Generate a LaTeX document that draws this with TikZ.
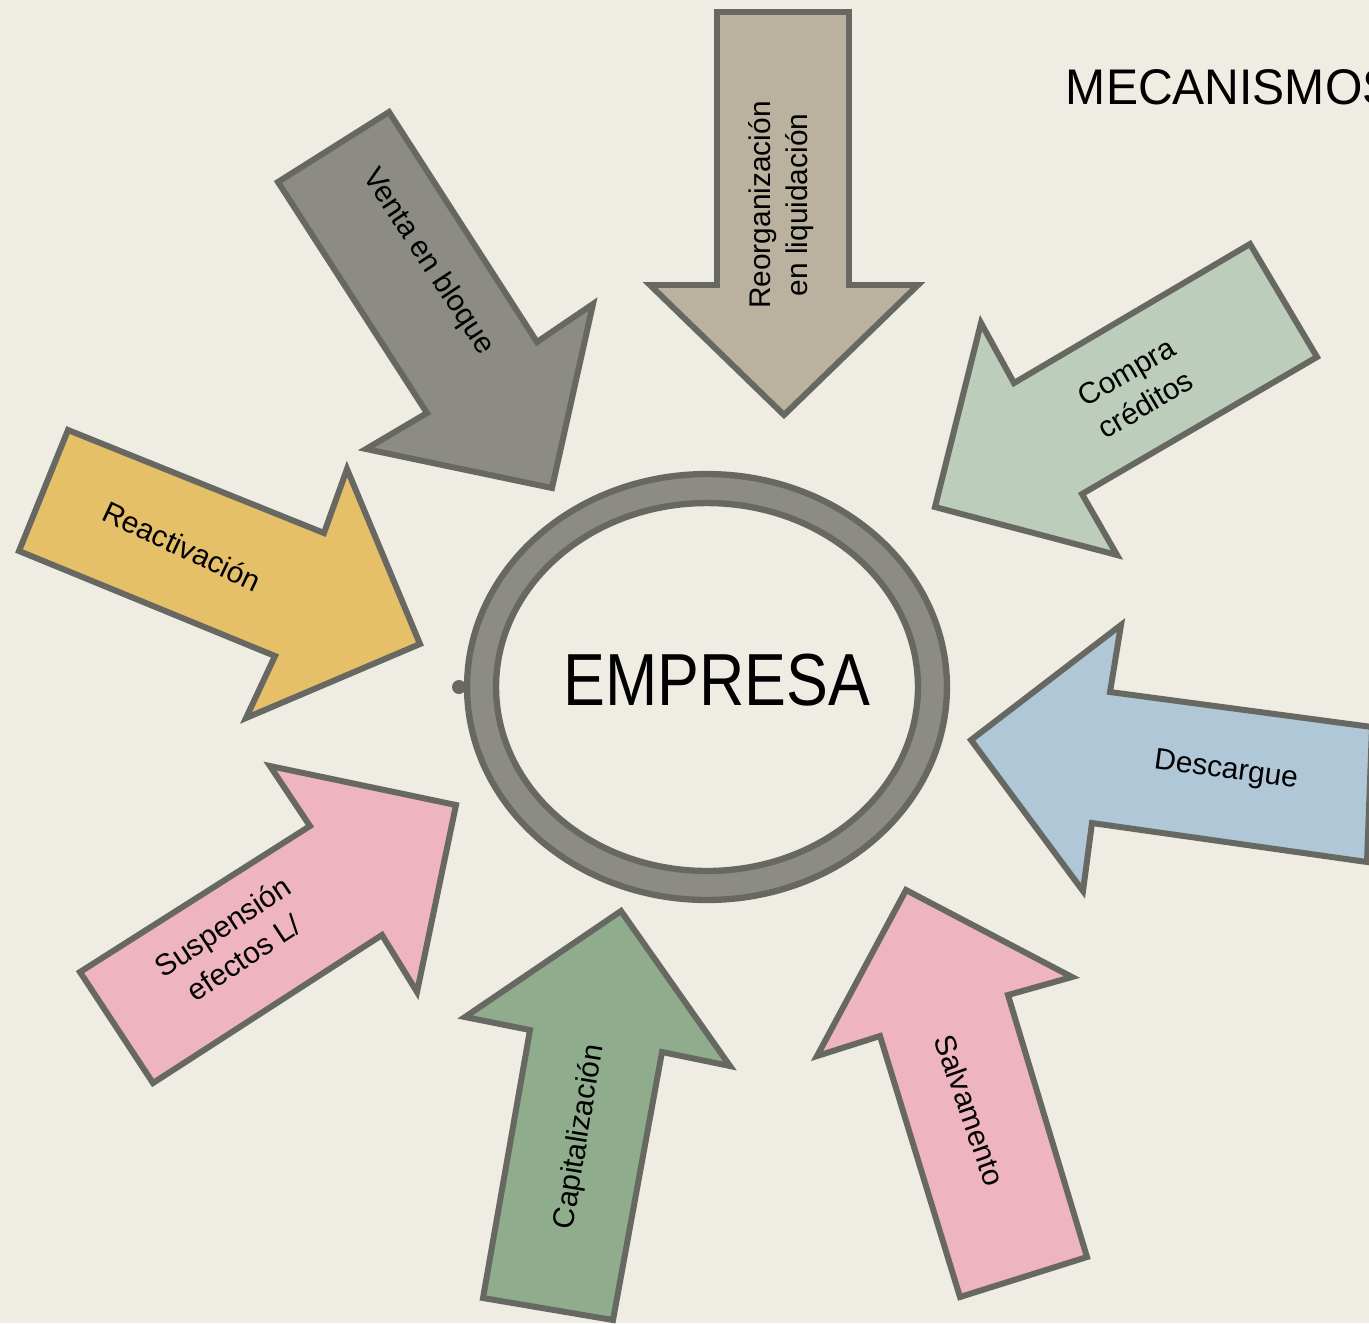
\documentclass[tikz,border=0pt]{standalone}
\usepackage{fontspec}
\setmainfont{Liberation Sans}
\usepackage{tikz}
\usetikzlibrary{positioning}
\definecolor{fondo}{RGB}{239,236,228}
\definecolor{borde}{RGB}{104,104,98}
\definecolor{arena}{RGB}{186,177,158}
\definecolor{piedra}{RGB}{140,140,132}
\definecolor{salvia}{RGB}{188,206,187}
\definecolor{mostaza}{RGB}{229,192,104}
\definecolor{celeste}{RGB}{175,199,215}
\definecolor{rosa}{RGB}{238,180,191}
\definecolor{oliva}{RGB}{143,172,141}

\begin{document}
\begin{tikzpicture}[
    x=0.02cm, y=-0.02cm,
    flecha/.style={draw=borde, line width=3.4pt, fill=#1},
    rotulo/.style={font=\fontsize{17}{21.5}\selectfont, align=center, inner sep=0pt}
]
    \useasboundingbox (0,0) rectangle (1369,1323);
    \fill[fondo] (0,0) rectangle (1369,1323);
    \clip (0,0) rectangle (1369,1323);

    % Arrows towards the company
    \draw[flecha=arena] (717,12) -- (849,12) -- (849,285) -- (918,285) -- (784,415) -- (650,285) -- (717,285) -- cycle;
    \draw[flecha=piedra] (278,182) -- (389,112) -- (537,342) -- (593,304) -- (552,488) -- (366,449) -- (427,413) -- cycle;
    \draw[flecha=salvia] (1250,244) -- (1317,357) -- (1082,494) -- (1117,555) -- (935,507) -- (981,323) -- (1014,383) -- cycle;
    \draw[flecha=mostaza] (68,430) -- (324,533) -- (347,469) -- (420,644) -- (246,718) -- (275,656) -- (19,551) -- cycle;
    \draw[flecha=celeste] (1372,727) -- (1110,692) -- (1121,625) -- (971,740) -- (1083,891) -- (1092,823) -- (1367,862) -- cycle;
    \draw[flecha=rosa] (960,1297) -- (1087,1257) -- (1008,995) -- (1072,977) -- (906,890) -- (817,1056) -- (880,1036) -- cycle;
    \draw[flecha=oliva] (483,1298) -- (613,1320) -- (662,1052) -- (730,1066) -- (621,911) -- (465,1017) -- (530,1030) -- cycle;
    \draw[flecha=rosa] (80,972) -- (310,826) -- (270,766) -- (456,805) -- (417,992) -- (382,935) -- (153,1083) -- cycle;

    % Ring
    \filldraw[even odd rule, fill=piedra, draw=borde, line width=3.6pt]
        (707,687) ellipse [x radius=4.80cm, y radius=4.26cm]
        (707,687) ellipse [x radius=4.22cm, y radius=3.68cm];
    \fill[borde] (459,687) circle [radius=0.14cm];

    % Labels
    \node[xscale=0.85, font=\fontsize{42}{50}\selectfont] (empresa) at (717,680) {EMPRESA};
    \node[anchor=base west, xscale=0.96, font=\fontsize{28.5}{34}\selectfont] (titulo) at (1060,104) {MECANISMOS};

    \node[rotulo, rotate=90] (reorg) at (781,205) {Reorganización\\en liquidación};
    \node[rotulo, rotate=-56.6] (venta) at (428,262) {Venta en bloque};
    \node[rotulo, rotate=30.5] (compra) at (1136,388) {Compra\\créditos};
    \node[rotulo, rotate=-25.3] (reactiv) at (182,546) {Reactivación};
    \node[rotulo, rotate=-7.8] (descargue) at (1226,771) {Descargue};
    \node[rotulo, rotate=-70.5] (salva) at (970,1110) {Salvamento};
    \node[rotulo, rotate=80.7] (capital) at (580,1137) {Capitalización};
    \node[rotulo, rotate=33.5] (suspension) at (233,942) {Suspensión\\efectos L/};
\end{tikzpicture}
\end{document}
